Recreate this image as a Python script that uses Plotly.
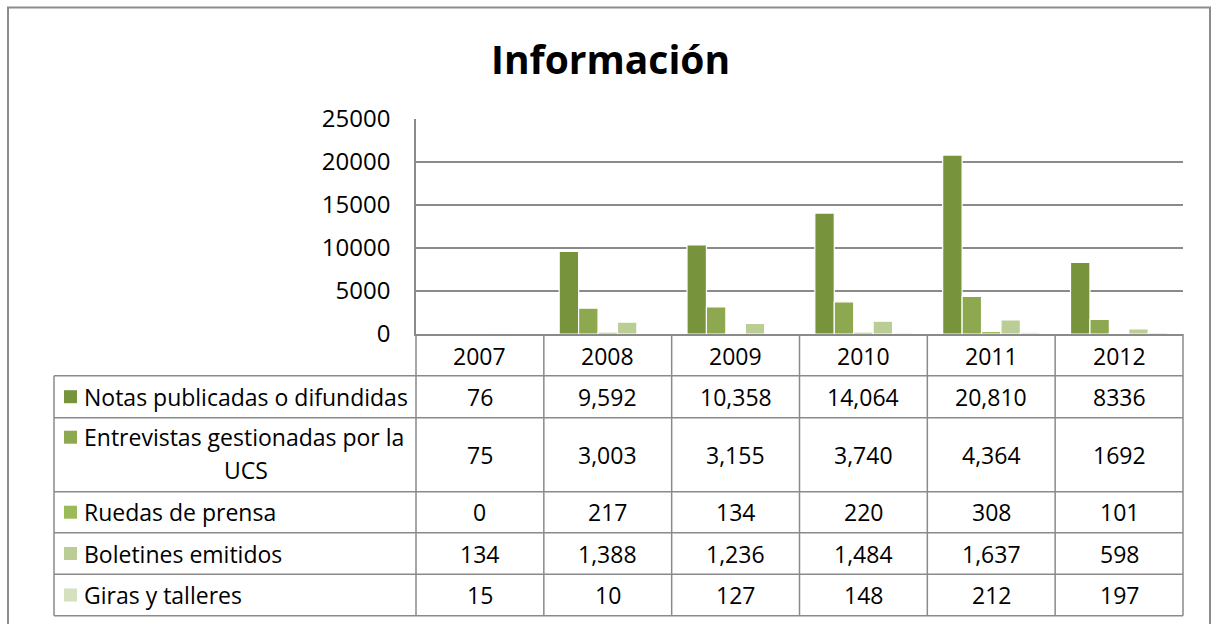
import plotly.graph_objects as go

# ---------------- data ----------------
years = ["2007", "2008", "2009", "2010", "2011", "2012"]
series_names = [
    "Notas publicadas o difundidas",
    "Entrevistas gestionadas por la UCS",
    "Ruedas de prensa",
    "Boletines emitidos",
    "Giras y talleres",
]
notas = [76, 9592, 10358, 14064, 20810, 8336]
entrevistas = [75, 3003, 3155, 3740, 4364, 1692]
ruedas = [0, 217, 134, 220, 308, 101]
boletines = [134, 1388, 1236, 1484, 1637, 598]
giras = [15, 10, 127, 148, 212, 197]
thousands_sep = [True, True, True, True, True, False]  # 2012 column shown without separator
y_ticks = [0, 5000, 10000, 15000, 20000, 25000]
title_text = "Información"

series_values = [notas, entrevistas, ruedas, boletines, giras]
colors = ["#77933C", "#8DA84F", "#9BBB59", "#B9CD94", "#D4E0BE"]

# ---------------- geometry ----------------
W, H = 1211, 624
L, R, T = 416, 28, 119
PW = W - L - R
PH = 215
B = H - T - PH
FONT = "Open Sans"
FS = 23
GRID = "#8A8A8A"


def px(x):  # screen pixels -> paper
    return (x - L) / PW


def py(y):
    return (T + PH - y) / PH


fig = go.Figure()
for name, vals, col in zip(series_names, series_values, colors):
    fig.add_trace(go.Bar(
        x=years, y=vals, name=name,
        marker=dict(color=col, line=dict(color="white", width=1.2)),
        showlegend=False,
    ))

shapes = []
annotations = []
txtfont = dict(family=FONT, size=FS, color="black")

# outer frame
shapes.append(dict(type="rect", xref="paper", yref="paper",
                   x0=px(8), x1=px(1210), y0=py(660), y1=py(7.5),
                   line=dict(color="#8C8C8C", width=2)))

# table grid
row_lines = [375.7, 417.7, 491.7, 532.7, 574.3, 615.7]
table_left = 54
for yl in row_lines:
    shapes.append(dict(type="line", xref="paper", yref="paper",
                       x0=px(table_left), x1=1, y0=py(yl), y1=py(yl),
                       line=dict(color=GRID, width=1.5)))
shapes.append(dict(type="line", xref="paper", yref="paper",
                   x0=px(table_left), x1=px(table_left),
                   y0=py(row_lines[0]), y1=py(row_lines[-1]),
                   line=dict(color=GRID, width=1.5)))
ncat = len(years)
for k in range(ncat + 1):
    shapes.append(dict(type="line", xref="paper", yref="paper",
                       x0=k / ncat, x1=k / ncat, y0=0, y1=py(row_lines[-1]),
                       line=dict(color=GRID, width=1.5)))


def colx(i):
    return (i + 0.5) / ncat


# header (years)
for i, yr in enumerate(years):
    annotations.append(dict(x=colx(i), xref="paper", y=py(355.5), yref="paper",
                            xanchor="center", yanchor="middle",
                            text=yr, showarrow=False, font=txtfont))

# rows
row_centers = [(row_lines[i] + row_lines[i + 1]) / 2 for i in range(5)]
for r, (name, vals, col) in enumerate(zip(series_names, series_values, colors)):
    yc = row_centers[r]
    for i, v in enumerate(vals):
        txt = f"{v:,}" if thousands_sep[i] else str(v)
        annotations.append(dict(x=colx(i), xref="paper", y=py(yc), yref="paper",
                                xanchor="center", yanchor="middle",
                                text=txt, showarrow=False, font=txtfont))
    # legend label
    if r == 1:
        words = name.split(" ")
        line1 = " ".join(words[:-1])
        line2 = words[-1]
        y1l = yc - 17.5
        y2l = yc + 15.5
        annotations.append(dict(x=px(82), xref="paper", y=py(y1l), yref="paper",
                                text=line1, showarrow=False, xanchor="left",
                                yanchor="middle", font=txtfont))
        annotations.append(dict(x=px(246), xref="paper", y=py(y2l), yref="paper",
                                text=line2, showarrow=False, xanchor="center",
                                yanchor="middle", font=txtfont))
        mk = y1l
    else:
        annotations.append(dict(x=px(82), xref="paper", y=py(yc), yref="paper",
                                text=name, showarrow=False, xanchor="left",
                                yanchor="middle", font=txtfont))
        mk = yc
    shapes.append(dict(type="rect", xref="paper", yref="paper",
                       x0=px(64), x1=px(77), y0=py(mk + 6.5), y1=py(mk - 6.5),
                       line=dict(width=0), fillcolor=col))

# title
annotations.append(dict(x=px(610), xref="paper", y=py(58), yref="paper",
                        xanchor="center", yanchor="middle",
                        text=f"<b>{title_text}</b>", showarrow=False,
                        font=dict(family=FONT, size=39, color="black")))

fig.update_layout(
    width=W, height=H,
    margin=dict(l=L, r=R, t=T, b=B, autoexpand=False),
    paper_bgcolor="white", plot_bgcolor="white",
    barmode="group", bargap=0.24, bargroupgap=0,
    shapes=shapes, annotations=annotations,
    font=dict(family=FONT, size=FS, color="black"),
)
fig.update_xaxes(type="category", showticklabels=False, showgrid=False, showline=True,
                 linecolor=GRID, linewidth=1.5, ticks="", range=[-0.5, 5.5])
fig.update_yaxes(range=[0, 25000], tickvals=y_ticks, ticktext=[str(t) for t in y_ticks],
                 showgrid=True, gridcolor=GRID, gridwidth=1.5,
                 showline=True, linecolor=GRID, linewidth=1.5, zeroline=False,
                 ticks="", ticklabelstandoff=19,
                 tickfont=dict(family=FONT, size=24, color="black"))

fig.write_html("out.html", config={"displayModeBar": False},
               post_script="document.body.style.margin='0';document.body.style.overflow='hidden';")
